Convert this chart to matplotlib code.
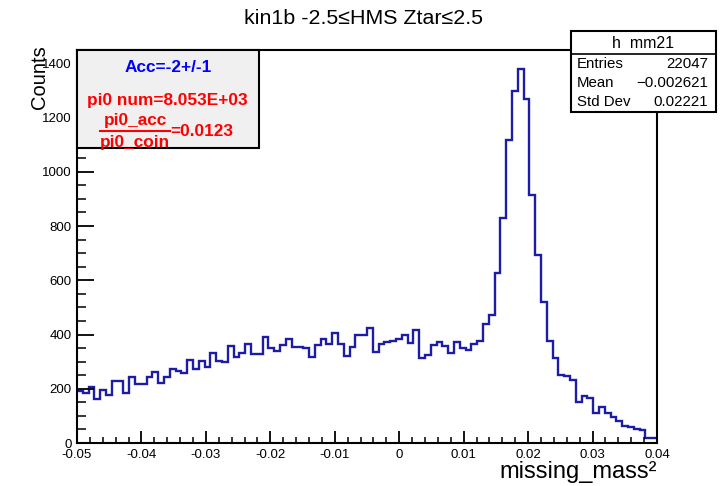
import numpy as np
import matplotlib
matplotlib.use("Agg")
import matplotlib.pyplot as plt
from matplotlib.patches import Rectangle
from matplotlib.lines import Line2D
from matplotlib.ticker import MultipleLocator, FixedLocator, FixedFormatter

plt.rcParams['font.family'] = ['Liberation Sans', 'DejaVu Sans']

# ---------------- data ----------------
x_min, x_max, n_bins = -0.05, 0.04, 100
counts = [
    193, 183, 205, 162, 195, 177, 230, 230, 183, 244,
    217, 217, 242, 260, 220, 244, 271, 267, 257, 306,
    271, 303, 281, 333, 303, 300, 357, 316, 333, 364,
    327, 327, 389, 352, 339, 361, 382, 355, 355, 349,
    316, 360, 384, 365, 407, 365, 321, 355, 400, 397,
    425, 337, 364, 371, 377, 385, 398, 367, 416, 312,
    324, 361, 371, 359, 330, 371, 352, 343, 366, 376,
    437, 472, 625, 828, 1116, 1297, 1380, 1270, 916, 695,
    521, 376, 314, 252, 247, 232, 152, 174, 166, 112,
    132, 109, 97, 82, 64, 60, 50, 47, 20, 20,
]
x_ticks = [-0.05, -0.04, -0.03, -0.02, -0.01, 0.0, 0.01, 0.02, 0.03, 0.04]
x_tick_labels = ["-0.05", "-0.04", "-0.03", "-0.02", "-0.01", "0",
                 "0.01", "0.02", "0.03", "0.04"]
y_ticks = [0, 200, 400, 600, 800, 1000, 1200, 1400]
y_tick_labels = ["0", "200", "400", "600", "800", "1000", "1200", "1400"]

title = "kin1b -2.5\u2264HMS Ztar\u22642.5"
x_label = "missing_mass\u00b2"
y_label = "Counts"
stats_name = "h  mm21"
stats_labels = ["Entries", "Mean", "Std Dev"]
stats_values = ["22047", "\u22120.002621", "0.02221"]
acc_text = "Acc=-2+/-1"
pi0_text = "pi0 num=8.053E+03"
ratio_num = "pi0_acc"
ratio_den = "pi0_coin"
ratio_val = "=0.0123"

# ---------------- figure ----------------
W, H = 726, 486
fig = plt.figure(figsize=(W / 100, H / 100), dpi=100)
fig.patch.set_facecolor('white')


def fx(px):
    return px / W


def fy(py):
    return 1 - py / H


ax = fig.add_axes([fx(77), fy(443), fx(657) - fx(77), fy(50) - fy(443)])
edges = np.linspace(x_min, x_max, n_bins + 1)
ax.stairs(counts, edges, color='#1c1ca6', lw=1.7, baseline=None)
ax.set_xlim(x_min, x_max)
ax.set_ylim(0, 1.05 * max(counts))

for s in ax.spines.values():
    s.set_linewidth(1.5)
    s.set_color('black')

ax.xaxis.set_major_locator(FixedLocator(x_ticks))
ax.xaxis.set_major_formatter(FixedFormatter(x_tick_labels))
ax.xaxis.set_minor_locator(MultipleLocator(0.002))
ax.yaxis.set_major_locator(FixedLocator(y_ticks))
ax.yaxis.set_major_formatter(FixedFormatter(y_tick_labels))
ax.yaxis.set_minor_locator(MultipleLocator(50))

ax.tick_params(axis='x', which='major', direction='in', length=8.5, width=1.3,
               labelsize=9.5, pad=4, top=False)
ax.tick_params(axis='x', which='minor', direction='in', length=4.2, width=1.1, top=False)
ax.tick_params(axis='y', which='major', direction='in', length=12.5, width=1.3,
               labelsize=9.5, pad=4, right=False)
ax.tick_params(axis='y', which='minor', direction='in', length=6.3, width=1.1, right=False)

# title and axis labels
fig.text(fx(364), fy(18), title, ha='center', va='center', fontsize=15.4)
fig.text(fx(657), fy(483), x_label, ha='right', va='bottom', fontsize=17)
fig.text(fx(40), fy(45), y_label, ha='center', va='top', rotation=90, fontsize=14.5)

# Acc box (top-left)
fig.add_artist(Rectangle((fx(77), fy(148)), fx(259) - fx(77), fy(50) - fy(148),
                         transform=fig.transFigure, facecolor='#f0f0f0',
                         edgecolor='black', lw=1.5, zorder=5))
fig.text(fx(168), fy(67), acc_text, ha='center', va='center', fontsize=12.4,
         fontweight='bold', color='#0000ff', zorder=6)
fig.text(fx(87), fy(100), pi0_text, ha='left', va='center', fontsize=12.4,
         fontweight='bold', color='#ff0000', zorder=6)
fig.text(fx(135), fy(120), ratio_num, ha='center', va='center', fontsize=12.4,
         fontweight='bold', color='#ff0000', zorder=6)
fig.text(fx(135), fy(142), ratio_den, ha='center', va='center', fontsize=12.4,
         fontweight='bold', color='#ff0000', zorder=6)
fig.add_artist(Line2D([fx(100), fx(170)], [fy(131.5), fy(131.5)],
                      transform=fig.transFigure, color='#ff0000', lw=1.5, zorder=6))
fig.text(fx(170), fy(131), ratio_val, ha='left', va='center', fontsize=12.4,
         fontweight='bold', color='#ff0000', zorder=6)

# stats box (top-right)
fig.add_artist(Rectangle((fx(571), fy(112)), fx(716) - fx(571), fy(31) - fy(112),
                         transform=fig.transFigure, facecolor='white',
                         edgecolor='black', lw=1.5, zorder=5))
fig.add_artist(Line2D([fx(571), fx(716)], [fy(54), fy(54)],
                      transform=fig.transFigure, color='black', lw=1.2, zorder=6))
fig.text(fx(643), fy(43), stats_name, ha='center', va='center', fontsize=11.5, zorder=6)
rows_y = [64, 83, 102]
for lab, val, ry in zip(stats_labels, stats_values, rows_y):
    fig.text(fx(577), fy(ry), lab, ha='left', va='center', fontsize=10.8, zorder=6)
    fig.text(fx(708), fy(ry), val, ha='right', va='center', fontsize=10.8, zorder=6)

fig.savefig('out.png', dpi=100)
